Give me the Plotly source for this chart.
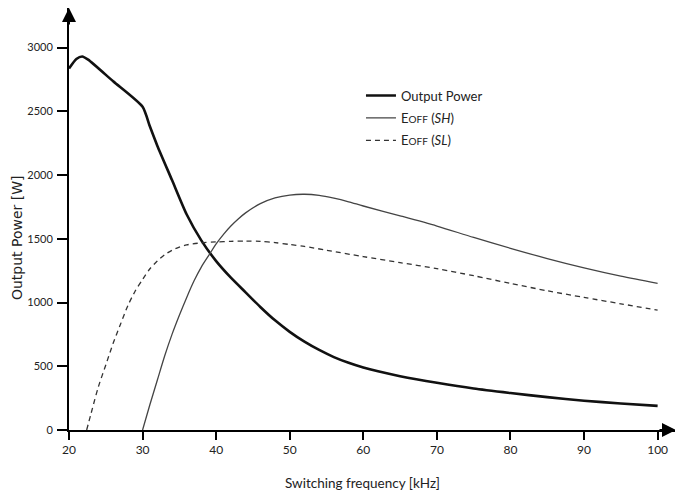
import plotly.graph_objects as go

# Output Power [W] vs switching frequency [kHz]
freq_out = [20, 21, 21.8, 22.6, 26, 30, 31, 32, 34, 36, 38, 40, 42, 44, 46,
            48, 50, 52, 54, 56, 58, 60, 62, 65, 70, 75, 80, 85, 90, 95, 100]
power_out = [2835, 2910, 2930, 2905, 2735, 2535, 2380, 2230, 1960, 1690, 1485, 1325, 1195,
             1080, 965, 860, 770, 693, 628, 572, 527, 490, 460, 422, 370, 325, 290, 258, 230,
             208, 189]

# EOFF (SH)
freq_sh = [30, 31, 32, 33, 34, 35, 36, 37, 38, 39, 40, 41, 42, 43, 44, 46, 48, 50, 52, 54, 56,
           58, 60, 65, 70, 75, 80, 85, 90, 95, 100]
eoff_sh = [0, 200, 390, 580, 750, 900, 1040, 1170, 1280, 1370, 1460, 1535, 1600, 1655, 1703,
           1775, 1820, 1843, 1849, 1840, 1818, 1790, 1757, 1680, 1600, 1510, 1425, 1345, 1272,
           1207, 1150]

# EOFF (SL)
freq_sl = [22.4, 23, 24, 25, 26, 27, 28, 29, 30, 31, 32, 33, 34, 35, 36, 38, 40, 42, 44, 46, 48,
           50, 52, 55, 60, 65, 70, 75, 80, 85, 90, 95, 100]
eoff_sl = [0, 130, 340, 510, 680, 830, 975, 1090, 1180, 1265, 1325, 1375, 1410, 1435, 1452, 1468,
           1475, 1480, 1482, 1480, 1470, 1455, 1440, 1410, 1360, 1313, 1266, 1210, 1150, 1092,
           1040, 990, 940]

x_ticks = [20, 30, 40, 50, 60, 70, 80, 90, 100]
y_ticks = [0, 500, 1000, 1500, 2000, 2500, 3000]

NARROW = "Lato, Liberation Sans Narrow, sans-serif"

fig = go.Figure()
fig.add_trace(go.Scatter(x=freq_out, y=power_out, mode="lines", name="Output Power",
                         legendgroup="a",
                         line=dict(color="#111111", width=2.6, shape="spline", smoothing=0.6)))
fig.add_trace(go.Scatter(x=freq_sh, y=eoff_sh, mode="lines", legendgroup="b",
                         name="E<span style='font-size:10px'>OFF</span> (<i>SH</i>)",
                         line=dict(color="#444444", width=1.3, shape="spline", smoothing=0.8)))
fig.add_trace(go.Scatter(x=freq_sl, y=eoff_sl, mode="lines", legendgroup="c",
                         name="E<span style='font-size:10px'>OFF</span> (<i>SL</i>)",
                         line=dict(color="#333333", width=1.3, dash="5px,4px", shape="spline",
                                   smoothing=0.8)))

# page has an 8px body margin: compensate so the plot area lands where the reference has it
fig.update_layout(
    width=683, height=495,
    margin=dict(l=61, r=15, t=0, b=73),
    paper_bgcolor="white", plot_bgcolor="white",
    showlegend=True,
    legend=dict(x=0.481, y=0.828, xanchor="left", yanchor="top", bgcolor="rgba(0,0,0,0)",
                font=dict(family=NARROW, size=13, color="#222222"), itemwidth=30,
                tracegroupgap=2.5),
    xaxis=dict(range=[20, 102.5], tickvals=x_ticks, ticktext=[str(v) for v in x_ticks],
               automargin=False,
               showgrid=False, zeroline=False, showline=True, linecolor="black", linewidth=2,
               ticks="outside", ticklen=8, tickwidth=2, tickcolor="black",
               tickfont=dict(family=NARROW, size=12, color="#222222")),
    yaxis=dict(range=[0, 3310], tickvals=y_ticks, ticktext=[str(v) for v in y_ticks],
               automargin=False, ticklabelstandoff=2,
               showgrid=False, zeroline=False, showline=True, linecolor="black", linewidth=2,
               ticks="outside", ticklen=10, tickwidth=2, tickcolor="black",
               tickfont=dict(family=NARROW, size=11, color="#222222")),
)

# axis titles
fig.add_annotation(text="Switching frequency [kHz]", xref="paper", yref="paper", x=0.483,
                   y=-0.1256, xanchor="center", yanchor="middle", showarrow=False,
                   font=dict(family=NARROW, size=13.5, color="#222222"))
fig.add_annotation(text="Output Power [W]", xref="paper", yref="paper", x=-0.0855, y=0.455,
                   xanchor="center", yanchor="middle", showarrow=False, textangle=-90,
                   font=dict(family="DejaVu Sans, Verdana, sans-serif", size=14,
                             color="#222222"))

# axis arrows
fig.add_annotation(x=20, y=3310, xref="x", yref="y", ax=0, ay=18, showarrow=True,
                   arrowhead=2, arrowsize=1.4, arrowwidth=2, arrowcolor="black", text="")
fig.add_annotation(x=102.5, y=0, xref="x", yref="y", ax=-18, ay=0, showarrow=True,
                   arrowhead=2, arrowsize=1.4, arrowwidth=2, arrowcolor="black", text="")

fig.write_html("out.html")
